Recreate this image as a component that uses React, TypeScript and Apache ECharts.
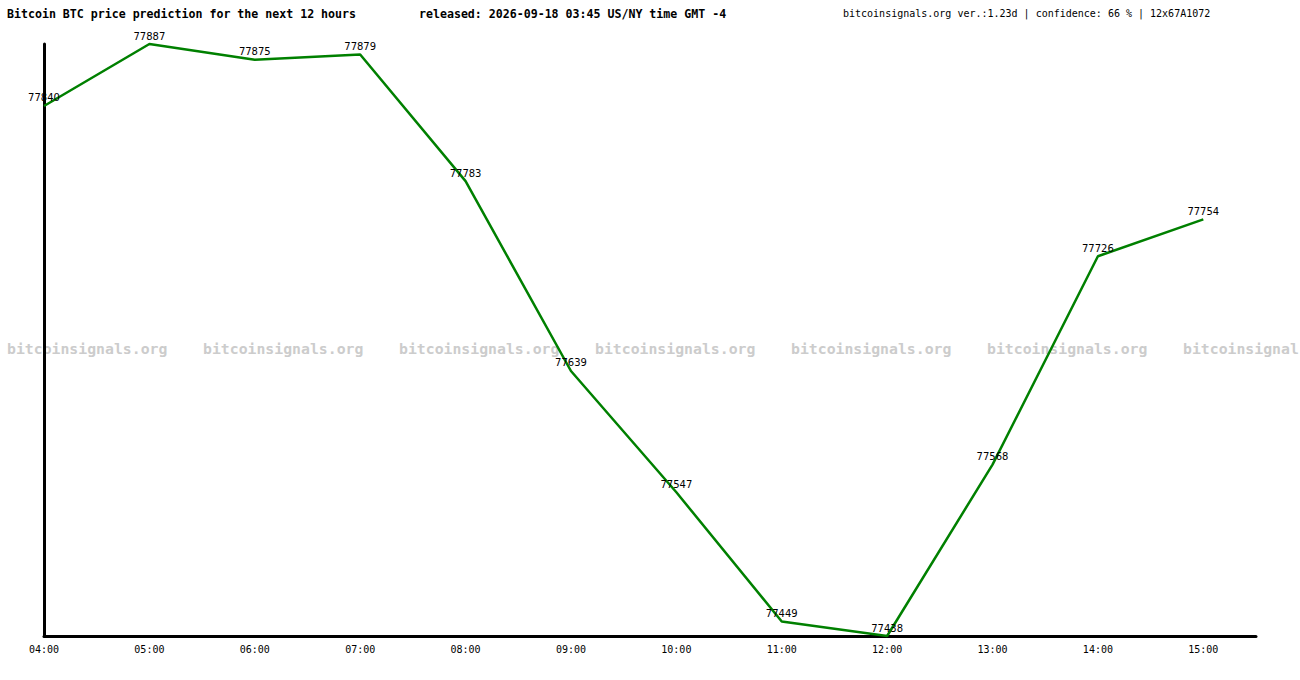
import React, { useEffect, useRef } from "react";
import * as echarts from "echarts";

const hours = ["04:00", "05:00", "06:00", "07:00", "08:00", "09:00", "10:00", "11:00", "12:00", "13:00", "14:00", "15:00"];
const prices = [77840, 77887, 77875, 77879, 77783, 77639, 77547, 77449, 77438, 77568, 77726, 77754];
const titleText = "Bitcoin BTC price prediction for the next 12 hours";
const releasedText = "released: 2026-09-18 03:45 US/NY time GMT -4";
const infoText = "bitcoinsignals.org ver.:1.23d | confidence: 66 % | 12x67A1072";
const watermarkTexts = [
  "bitcoinsignals.org",
  "bitcoinsignals.org",
  "bitcoinsignals.org",
  "bitcoinsignals.org",
  "bitcoinsignals.org",
  "bitcoinsignals.org",
  "bitcoinsignal",
];
const watermarkXs = [7, 203, 399, 595, 791, 987, 1183];

export default function App() {
  const ref = useRef<HTMLDivElement>(null);
  useEffect(() => {
    if (!ref.current) return;
    const chart = echarts.init(ref.current, null, { renderer: "svg" });
    const mono = "'DejaVu Sans Mono', monospace";
    const data = prices.map((v, i) => [i, v]);
    const graphics: any[] = [
      {
        type: "text",
        left: 7,
        top: 8,
        style: { text: titleText, font: `bold 11.6px ${mono}`, fill: "#000" },
      },
      {
        type: "text",
        left: 419,
        top: 8,
        style: { text: releasedText, font: `bold 11.6px ${mono}`, fill: "#000" },
      },
      {
        type: "text",
        left: 843,
        top: 8,
        style: { text: infoText, font: `10px ${mono}`, fill: "#000" },
      },
      ...watermarkXs.map((x, i) => ({
        type: "text",
        x,
        y: 348,
        z: -10,
        style: {
          text: watermarkTexts[i],
          font: `bold 14.8px ${mono}`,
          fill: "#cccccc",
          verticalAlign: "middle",
        },
      })),
    ];
    chart.setOption({
      animation: false,
      backgroundColor: "#fff",
      graphic: graphics,
      grid: { left: 44, top: 44, width: 1212, height: 592, containLabel: false },
      xAxis: {
        type: "value",
        min: 0,
        max: 11.5,
        interval: 1,
        axisLine: { show: true, lineStyle: { color: "#000", width: 3 } },
        axisTick: { show: false },
        splitLine: { show: false },
        axisLabel: {
          margin: 8,
          fontFamily: mono,
          fontSize: 10,
          color: "#000",
          showMaxLabel: false,
          formatter: (v: number) => (Number.isInteger(v) && hours[v] ? hours[v] : ""),
        },
      },
      yAxis: {
        type: "value",
        min: 77438,
        max: 77887,
        axisLine: { show: true, lineStyle: { color: "#000", width: 3 } },
        axisTick: { show: false },
        axisLabel: { show: false },
        splitLine: { show: false },
      },
      series: [
        {
          type: "line",
          data,
          showSymbol: true,
          symbol: "circle",
          symbolSize: 2,
          itemStyle: { color: "rgba(0,0,0,0)", borderWidth: 0 },
          clip: false,
          lineStyle: { color: "#008000", width: 2.5 },
          label: {
            show: true,
            position: "top",
            distance: 2,
            fontFamily: "'DejaVu Sans', sans-serif",
            fontSize: 10,
            color: "#000",
            formatter: (p: any) => String(p.value[1]),
          },
        },
      ],
    });
    return () => chart.dispose();
  }, []);
  return (
    <div
      ref={ref}
      style={{ position: "fixed", left: 0, top: 0, width: 1300, height: 680, background: "#fff" }}
    />
  );
}
